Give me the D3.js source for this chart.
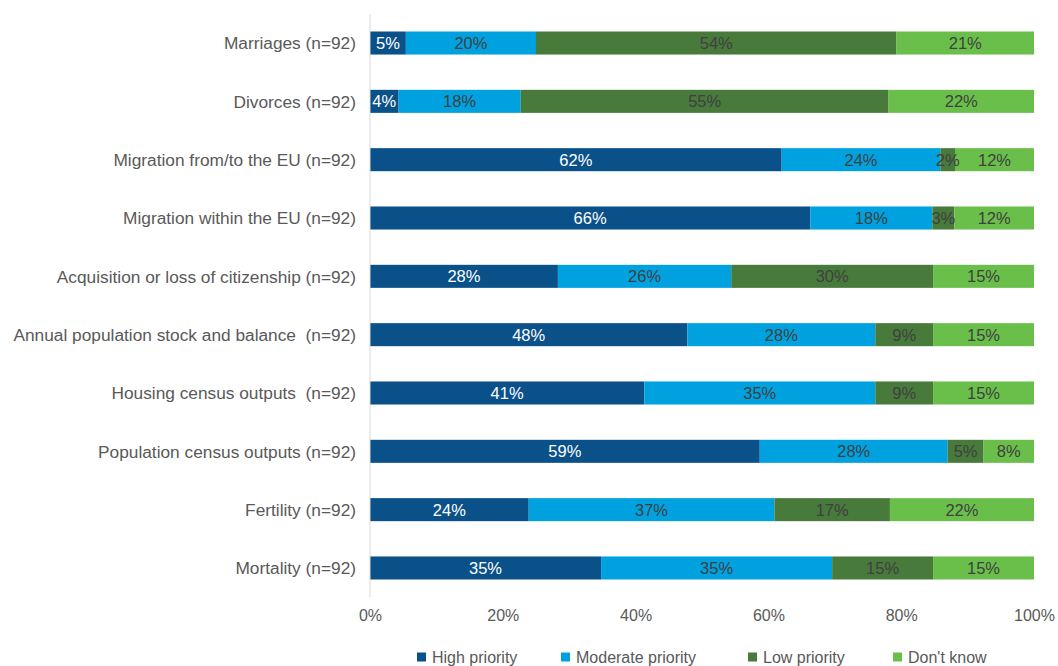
<!DOCTYPE html>
<html>
<head>
<meta charset="utf-8">
<script src="https://cdn.jsdelivr.net/npm/d3@7"></script>
<style>
  body { margin: 0; background: #fff; }
  text { font-family: "Liberation Sans", Arial, sans-serif; }
</style>
</head>
<body>
<script>
// categories, top to bottom
var categories = [
  "Marriages (n=92)",
  "Divorces (n=92)",
  "Migration from/to the EU (n=92)",
  "Migration within the EU (n=92)",
  "Acquisition or loss of citizenship (n=92)",
  "Annual population stock and balance  (n=92)",
  "Housing census outputs  (n=92)",
  "Population census outputs (n=92)",
  "Fertility (n=92)",
  "Mortality (n=92)"
];
var seriesNames = ["High priority", "Moderate priority", "Low priority", "Don't know"];
var seriesColors = ["#0b5189", "#00a1df", "#477a3b", "#6abf4b"];
var labelColors = ["#ffffff", "#404040", "#404040", "#404040"];

// shares in %
var high     = [5.4, 4.3, 62.0, 66.3, 28.3, 47.8, 41.3, 58.7, 23.9, 34.8];
var moderate = [19.6, 18.4, 23.9, 18.4, 26.1, 28.3, 34.8, 28.3, 37.0, 34.8];
var low      = [54.3, 55.4, 2.2, 3.3, 30.4, 8.7, 8.7, 5.4, 17.4, 15.2];
var dontKnow = [20.7, 21.9, 11.9, 12.0, 15.2, 15.2, 15.2, 7.6, 21.7, 15.2];
var xTicks = [0, 20, 40, 60, 80, 100];

var outerWidth = 1058, outerHeight = 666;
var margin = {top: 14, right: 24, bottom: 69, left: 370};
var width = outerWidth - margin.left - margin.right,
    height = outerHeight - margin.top - margin.bottom;

var rows = categories.map(function(c, i) {
  return {cat: c, "High priority": high[i], "Moderate priority": moderate[i],
          "Low priority": low[i], "Don't know": dontKnow[i]};
});
var stacked = d3.stack().keys(seriesNames)(rows);

var xScale = d3.scaleLinear().domain([0, 100]).range([0, width]);
var yScale = d3.scaleBand().domain(categories).range([0, height]).paddingInner(0.605).paddingOuter(0.3);

var svg = d3.select("body").append("svg")
    .attr("width", outerWidth)
    .attr("height", outerHeight);
var g = svg.append("g").attr("transform", "translate(" + margin.left + "," + margin.top + ")");

// bars
var layer = g.selectAll(".layer")
    .data(stacked)
    .enter().append("g")
    .attr("class", "layer")
    .attr("fill", function(d, i) { return seriesColors[i]; });

layer.selectAll("rect")
    .data(function(d) { return d; })
    .enter().append("rect")
    .attr("x", function(d) { return xScale(d[0]); })
    .attr("width", function(d) { return xScale(d[1]) - xScale(d[0]); })
    .attr("y", function(d) { return yScale(d.data.cat); })
    .attr("height", yScale.bandwidth());

// value labels
stacked.forEach(function(s, i) {
  g.append("g").selectAll("text")
    .data(s)
    .enter().append("text")
    .attr("x", function(d) { return (xScale(d[0]) + xScale(d[1])) / 2; })
    .attr("y", function(d) { return yScale(d.data.cat) + yScale.bandwidth() / 2; })
    .attr("dy", "0.36em")
    .attr("text-anchor", "middle")
    .attr("fill", labelColors[i])
    .style("font-size", "16.5px")
    .text(function(d) { return Math.round(d[1] - d[0]) + "%"; });
});

// y axis line and category labels
g.append("line")
    .attr("x1", 0).attr("x2", 0)
    .attr("y1", 0).attr("y2", height)
    .attr("stroke", "#d9d9d9")
    .attr("stroke-width", 1);

g.append("g").selectAll("text")
    .data(categories)
    .enter().append("text")
    .attr("x", -14)
    .attr("y", function(d) { return yScale(d) + yScale.bandwidth() / 2; })
    .attr("dy", "0.36em")
    .attr("text-anchor", "end")
    .attr("fill", "#595959")
    .style("font-size", "17.3px")
    .style("white-space", "pre")
    .text(function(d) { return d; });

// x axis
var xAxis = d3.axisBottom(xScale).tickValues(xTicks).tickSize(0).tickPadding(13)
    .tickFormat(function(d) { return d + "%"; });
var ax = g.append("g")
    .attr("transform", "translate(0," + height + ")")
    .call(xAxis);
ax.select(".domain").remove();
ax.selectAll("text").attr("fill", "#595959").style("font-size", "16px");

// legend
var legendX = [417, 561, 748, 893];
var legend = svg.append("g").selectAll("g")
    .data(seriesNames)
    .enter().append("g")
    .attr("transform", function(d, i) { return "translate(" + legendX[i] + ",657)"; });
legend.append("rect")
    .attr("x", 0).attr("y", -4.5)
    .attr("width", 9).attr("height", 9)
    .attr("fill", function(d, i) { return seriesColors[i]; });
legend.append("text")
    .attr("x", 15)
    .attr("dy", "0.36em")
    .attr("fill", "#595959")
    .style("font-size", "16px")
    .text(function(d) { return d; });
</script>
</body>
</html>
